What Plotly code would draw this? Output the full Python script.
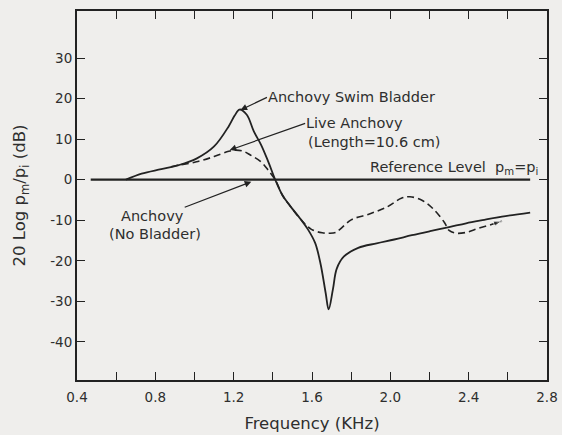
import plotly.graph_objects as go

# Frequency (kHz) and level (dB)
swim_f = [0.65, 0.73, 0.83, 0.92, 1.01, 1.10, 1.175, 1.205, 1.23, 1.267, 1.303, 1.34, 1.377, 1.414,
          1.45, 1.487, 1.542, 1.579, 1.616, 1.643, 1.67, 1.685, 1.707, 1.726, 1.762, 1.836,
          1.93, 2.02, 2.11, 2.203, 2.30, 2.387, 2.48, 2.57, 2.714]
swim_db = [0.0, 1.5, 2.6, 3.6, 5.2, 8.2, 13.2, 15.8, 17.3, 16.0, 11.9, 8.6, 4.4, -0.2,
           -3.9, -6.4, -9.75, -12.25, -15.6, -20.6, -28.0, -32.0, -27.0, -22.0, -19.0, -16.8,
           -15.7, -14.75, -13.7, -12.7, -11.7, -10.75, -9.9, -9.1, -8.1]

live_f = [0.88, 0.92, 1.01, 1.10, 1.175, 1.21, 1.25, 1.285, 1.34, 1.377, 1.414, 1.45, 1.487, 1.542,
          1.597, 1.652, 1.69, 1.72, 1.744, 1.80, 1.89, 1.98, 2.056, 2.10, 2.166, 2.22, 2.277,
          2.30, 2.335, 2.387, 2.45, 2.52, 2.57]
live_db = [3.2, 3.6, 4.4, 5.7, 7.0, 7.3, 7.0, 6.1, 4.4, 2.3, -0.2, -3.9, -6.4, -9.75,
           -12.25, -13.1, -13.2, -13.0, -12.2, -9.9, -8.5, -6.8, -4.6, -4.2, -5.2, -7.25, -10.6,
           -12.5, -13.2, -13.0, -12.0, -11.0, -10.2]

ref_f = [0.47, 2.714]
ref_db = [0, 0]

x_ticks = [0.4, 0.8, 1.2, 1.6, 2.0, 2.4, 2.8]
x_labels = ["0.4", "0.8", "1.2", "1.6", "2.0", "2.4", "2.8"]
x_minor_step = 0.2
y_ticks = [-40, -30, -20, -10, 0, 10, 20, 30]
y_labels = ["-40", "-30", "-20", "-10", "0", "10", "20", "30"]
x_range = [0.4, 2.8]
y_range = [-49.4, 41.6]

INK = "#222222"
BG = "#efeeec"
FONT = "DejaVu Sans"
TXT = "#2e2e2e"

fig = go.Figure()
fig.add_trace(go.Scatter(x=ref_f, y=ref_db, mode="lines",
                         line=dict(color=INK, width=2.2), hoverinfo="skip"))
fig.add_trace(go.Scatter(x=swim_f, y=swim_db, mode="lines", line_shape="spline",
                         line=dict(color=INK, width=1.8), hoverinfo="skip"))
fig.add_trace(go.Scatter(x=live_f, y=live_db, mode="lines+markers", line_shape="spline",
                         line=dict(color=INK, width=1.6, dash="7px,4px"),
                         marker=dict(symbol="arrow", angleref="previous", color=INK,
                                     size=[0] * (len(live_f) - 1) + [9]),
                         hoverinfo="skip"))
# invisible carrier trace so the top/right frame axes are drawn
fig.add_trace(go.Scatter(x=ref_f, y=ref_db, xaxis="x2", yaxis="y2", mode="lines",
                         line=dict(width=0), opacity=0, hoverinfo="skip"))

tick_style = dict(showgrid=False, zeroline=False, showline=True, linecolor=INK, linewidth=2,
                  ticks="inside", ticklen=8, tickwidth=1.3, tickcolor=INK, automargin=False)
minor_style = dict(tick0=x_range[0], dtick=x_minor_step, ticks="inside", ticklen=8,
                   tickwidth=1.3, tickcolor=INK, showgrid=False)
tfont = dict(family=FONT, size=13.5, color=TXT)
title_font = dict(family=FONT, size=16.5, color=TXT)

fig.update_layout(
    xaxis=dict(range=x_range, tickmode="array", tickvals=x_ticks, ticktext=x_labels,
               minor=minor_style, ticklabelstandoff=4, tickfont=tfont,
               title=dict(text="Frequency (KHz)", font=title_font, standoff=13),
               **tick_style),
    yaxis=dict(range=y_range, tickmode="array", tickvals=y_ticks, ticktext=y_labels,
               tickfont=tfont,
               title=dict(text="20 Log p<sub>m</sub>/p<sub>i</sub> (dB)",
                          font=title_font, standoff=20),
               **tick_style),
    xaxis2=dict(range=x_range, overlaying="x", side="top", anchor="y2",
                tickmode="array", tickvals=x_ticks, showticklabels=False,
                minor=minor_style, **tick_style),
    yaxis2=dict(range=y_range, overlaying="y", side="right", anchor="x2",
                tickmode="array", tickvals=y_ticks, showticklabels=False, **tick_style),
)

txt = dict(family=FONT, size=14.5, color=TXT)
arrow = dict(showarrow=True, axref="x", ayref="y", arrowhead=2, arrowsize=1.1,
             arrowwidth=1.2, arrowcolor=INK, standoff=0, font=txt, borderpad=0)

fig.add_annotation(x=1.235, y=17.2, ax=1.37, ay=20.3, text="Anchovy Swim Bladder",
                   xanchor="left", yanchor="middle", **arrow)
fig.add_annotation(x=1.18, y=7.3, ax=1.565, ay=13.9, text="Live Anchovy",
                   xanchor="left", yanchor="middle", **arrow)
fig.add_annotation(x=1.575, y=9.3, text="(Length=10.6 cm)", showarrow=False,
                   xanchor="left", yanchor="middle", font=txt, borderpad=0)
fig.add_annotation(x=2.765, y=2.8, text="Reference Level  p<sub>m</sub>=p<sub>i</sub>",
                   showarrow=False, xanchor="right", yanchor="middle", font=txt)
fig.add_annotation(x=1.29, y=-0.5, ax=0.95, ay=-6.8, text="Anchovy",
                   xanchor="right", yanchor="top", **arrow)
fig.add_annotation(x=0.56, y=-13.5, text="(No Bladder)", showarrow=False,
                   xanchor="left", yanchor="middle", font=txt, borderpad=0)

fig.update_layout(width=562, height=435, showlegend=False,
                  margin=dict(l=77, r=15, t=11, b=55),
                  paper_bgcolor=BG, plot_bgcolor=BG,
                  font=dict(family=FONT, color=TXT))

fig.write_html("out.html", config={"displayModeBar": False},
               post_script="document.body.style.margin='0px';document.body.style.background='#efeeec';")
